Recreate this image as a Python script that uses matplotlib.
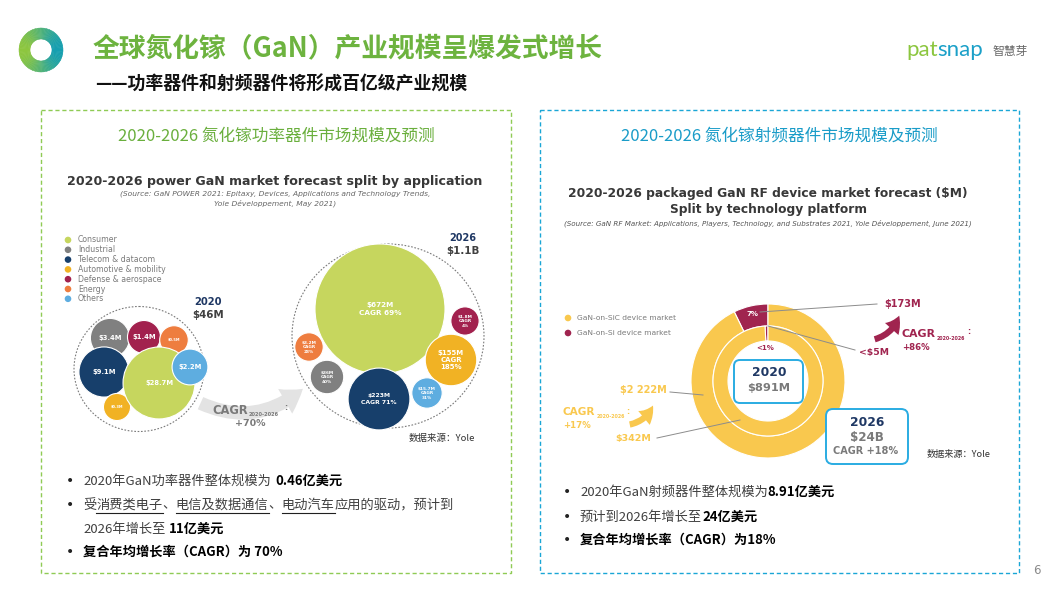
import numpy as np
import matplotlib
matplotlib.use("Agg")
import matplotlib.pyplot as plt
import matplotlib.colors as mc
from matplotlib.patches import Circle, Ellipse, Rectangle, Wedge, FancyArrowPatch, FancyBboxPatch

CJK = ['Noto Sans CJK SC', 'DejaVu Sans']
LAT = ['DejaVu Sans']
plt.rcParams['font.family'] = CJK

# ---------------- data ----------------
applications = ['Consumer', 'Industrial', 'Telecom & datacom', 'Automotive & mobility',
                'Defense & aerospace', 'Energy', 'Others']
power_2020 = [28.7, 3.4, 9.1, 0.3, 1.4, 0.5, 2.2]          # $M
power_2026 = [672, 36, 223, 155, 1.8, 3.2, 15.7]            # $M
power_cagr = [69, 40, 71, 185, 4, 28, 31]                   # %
power_total = ['$46M', '$1.1B']
power_total_cagr = 70

platforms = ['GaN-on-SiC device market', 'GaN-on-Si device market']
rf_2020 = [342, 3]        # inner ring (SiC, Si) $M
rf_2026 = [2222, 173]     # outer ring (SiC, Si) $M
rf_cagr = [17, 86]
rf_total = ['$891M', '$24B']
rf_total_cagr = 18

# ---------------- layout / style ----------------
app_colors = ['#C6D65E', '#808080', '#173F6B', '#F1B224', '#A2214E', '#EE7D3F', '#5EADE0']
pos_2020 = [(159, 383), (110, 338), (104, 372), (117, 407), (144, 337), (174, 340), (190, 367)]
pos_2026 = [(380, 309), (327, 377), (379, 399), (451, 360), (465, 321), (309, 347), (427, 393)]
order_2020 = [1, 4, 5, 2, 3, 0, 6]
order_2026 = [0, 1, 2, 3, 4, 5, 6]
YEL, MAR = '#F9C84E', '#A0244F'
NAVY = '#1F3864'

fig = plt.figure(figsize=(10.53, 5.94), dpi=100)
ax = fig.add_axes([0, 0, 1, 1])
R = fig.canvas.get_renderer()


def reset():
    ax.set_xlim(0, 1053)
    ax.set_ylim(594, 0)
    ax.set_aspect('auto')
    ax.axis('off')


reset()


def fit(x, y, s, width, **kw):
    t = ax.text(x, y, s, fontsize=10, **kw)
    w = t.get_window_extent(renderer=R).width
    t.set_fontsize(10 * width / w)
    return t


def rich(x, y, segs, size, gap=0):
    for s, bold, ul in segs:
        t = ax.text(x, y, s, fontsize=size, fontweight='bold' if bold else 'normal',
                    color='#000000' if bold else '#404040', va='center', ha='left', family=CJK)
        w = t.get_window_extent(renderer=R).width
        if ul:
            ax.plot([x, x + w], [y + 8, y + 8], color='#202020', lw=0.8)
        x += w + (gap if not bold else 0)


# ---------------- header ----------------
c1 = np.array(mc.to_rgb('#8DC63F'))
c2 = np.array(mc.to_rgb('#169FB0'))
for a in range(0, 360, 4):
    f = (np.cos(np.radians(a + 2)) + 1) / 2
    col = c1 * (1 - f) + c2 * f
    ax.add_patch(Wedge((41, 50), 22, a, a + 4.6, width=11, fc=col, ec=col, lw=0.3))

ax.text(93, 48, '全球氮化镓（GaN）产业规模呈爆发式增长', fontsize=19.3, fontweight='bold',
        color='#6DB33F', va='center', ha='left')
ax.text(95, 85, '——功率器件和射频器件将形成百亿级产业规模', fontsize=12.9, fontweight='bold',
        color='#111111', va='center', ha='left')

t = ax.text(906, 50, 'pat', fontsize=16, color='#8CC63F', va='center', ha='left', family=['Lato'])
w = t.get_window_extent(renderer=R).width
ax.text(906 + w, 50, 'snap', fontsize=16, color='#1BA0C8', va='center', ha='left', family=['Lato'])
ax.text(992, 51, '智慧芽', fontsize=8.5, color='#666666', va='center', ha='left')

# panels
ax.add_patch(Rectangle((41, 110), 470, 463, fill=False, ec='#8FCB55', lw=1, ls=(0, (3, 2))))
ax.add_patch(Rectangle((540, 110), 479, 463, fill=False, ec='#1AA6D6', lw=1, ls=(0, (3, 2))))
ax.text(276, 136, '2020-2026 氮化镓功率器件市场规模及预测', fontsize=12, color='#6AAF3D',
        ha='center', va='center')
ax.text(779, 136, '2020-2026 氮化镓射频器件市场规模及预测', fontsize=12, color='#1A9CC8',
        ha='center', va='center')
ax.text(1037, 571, '6', fontsize=8.5, color='#8a8a8a', ha='center', va='center', family=LAT)

# ---------------- left: bubble chart ----------------
fit(275, 181, '2020-2026 power GaN market forecast split by application', 416,
    ha='center', va='center', fontweight='bold', color='#383838', family=LAT)
s1 = fit(275, 194, '(Source: GaN POWER 2021: Epitaxy, Devices, Applications and Technology Trends,', 309,
         ha='center', va='center', style='italic', color='#666666', family=LAT)
ax.text(275, 203, 'Yole Développement, May 2021)', fontsize=s1.get_fontsize(), ha='center', va='center',
        style='italic', color='#666666', family=LAT)

# legend
for i, (name, col) in enumerate(zip(applications, app_colors)):
    y = 240 + i * 9.8
    ax.add_patch(Circle((68, y), 3.3, fc=col, ec='none'))
    ax.text(78, y, name, fontsize=5.6, color='#7a7a7a', va='center', ha='left', family=LAT)

# dashed envelopes
ax.add_patch(Ellipse((139, 369), 130, 125, fill=False, ec='#7a7a7a', lw=0.8, ls=(0, (1.5, 1.5))))
ax.add_patch(Ellipse((388, 336), 192, 184, fill=False, ec='#7a7a7a', lw=0.8, ls=(0, (1.5, 1.5))))


def r2020(v):
    return 11 + 4.66 * np.sqrt(v)


def r2026(v):
    return 14 + 0.0759 * v


for i in order_2020:
    v = power_2020[i]
    r = r2020(v)
    ax.add_patch(Circle(pos_2020[i], r, fc=app_colors[i], ec='white', lw=0.8))
    fs = 4.9 if r >= 15 else 2.6
    ax.text(pos_2020[i][0], pos_2020[i][1], f'${v:g}M', fontsize=fs, color='white',
            fontweight='bold', ha='center', va='center', family=LAT)

for i in order_2026:
    v = power_2026[i]
    r = r2026(v)
    ax.add_patch(Circle(pos_2026[i], r, fc=app_colors[i], ec='white', lw=0.8))
    if r >= 28:
        lab = f'${v:g}M\nCAGR {power_cagr[i]}%'
        fs = 5.2 if r >= 40 else 4.4
    else:
        lab = f'${v:g}M\nCAGR\n{power_cagr[i]}%'
        fs = 5.0 if r >= 20 else 3.1
    ax.text(pos_2026[i][0], pos_2026[i][1], lab, fontsize=fs, color='white', fontweight='bold',
            ha='center', va='center', family=LAT, linespacing=1.25)

ax.text(208, 302, '2020', fontsize=7.2, fontweight='bold', color=NAVY, ha='center', va='center', family=LAT)
ax.text(208, 315, power_total[0], fontsize=7.4, fontweight='bold', color='#404040', ha='center', va='center', family=LAT)
ax.text(463, 238, '2026', fontsize=7.0, fontweight='bold', color=NAVY, ha='center', va='center', family=LAT)
ax.text(463, 251, power_total[1], fontsize=7.4, fontweight='bold', color='#404040', ha='center', va='center', family=LAT)

ax.add_patch(FancyArrowPatch((198, 402), (305, 387), connectionstyle='arc3,rad=0.33',
                             arrowstyle='simple,head_length=1.3,head_width=1.7,tail_width=0.8',
                             mutation_scale=12, fc='#e3e3e3', ec='none'))
ax.text(230, 410, 'CAGR', fontsize=8.3, fontweight='bold', color='#7a7a7a', ha='center', va='center', family=LAT)
ax.text(249, 415, '2020-2026', fontsize=3.6, fontweight='bold', color='#7a7a7a', ha='left', va='center', family=LAT)
ax.text(284, 407, ':', fontsize=5.5, fontweight='bold', color='#7a7a7a', ha='left', va='center', family=LAT)
ax.text(250, 423, f'+{power_total_cagr}%', fontsize=6.8, fontweight='bold', color='#7a7a7a',
        ha='center', va='center', family=LAT)
ax.text(442, 438, '数据来源：Yole', fontsize=6.8, color='#333333', ha='center', va='center')

# ---------------- right: donut ----------------
f1 = fit(768, 193, '2020-2026 packaged GaN RF device market forecast ($M)', 401,
         ha='center', va='center', fontweight='bold', color='#383838', family=LAT)
ax.text(768, 209, 'Split by technology platform', fontsize=f1.get_fontsize(), ha='center', va='center',
        fontweight='bold', color='#383838', family=LAT)
fit(768, 223, '(Source: GaN RF Market: Applications, Players, Technology, and Substrates 2021, Yole Développement, June 2021)',
    405, ha='center', va='center', style='italic', color='#555555', family=LAT)

for i, (name, col) in enumerate(zip(platforms, [YEL, MAR])):
    y = 318 + i * 15
    ax.add_patch(Circle((568, y), 3.3, fc=col, ec='none'))
    ax.text(577, y, name, fontsize=5.4, color='#7a7a7a', va='center', ha='left', family=LAT)

C = (768, 381)
ax.pie(rf_2026[::-1], radius=77, center=C, colors=[MAR, YEL], startangle=-90, counterclock=False,
       wedgeprops=dict(width=22, edgecolor='white', linewidth=0.8), frame=True)
ax.pie(rf_2020[::-1], radius=55, center=C, colors=[MAR, YEL], startangle=-90, counterclock=False,
       wedgeprops=dict(width=15, edgecolor='white', linewidth=0.8), frame=True)
reset()

share26 = rf_2026[1] / sum(rf_2026) * 100
ax.text(752, 314, f'{share26:.0f}%', fontsize=5, fontweight='bold', color='white', ha='center', va='center', family=LAT)
ax.text(765, 348, '<1%', fontsize=5, fontweight='bold', color=MAR, ha='center', va='center', family=LAT)

lc = '#8c8c8c'
ax.plot([760, 877], [312, 304], color=lc, lw=0.7)
ax.plot([768, 855], [326, 350], color=lc, lw=0.7)
ax.plot([670, 703], [392, 395], color=lc, lw=0.7)
ax.plot([657, 740], [438, 420], color=lc, lw=0.7)

ax.text(903, 304, f'${rf_2026[1]}M', fontsize=7, fontweight='bold', color=MAR, ha='center', va='center', family=LAT)
ax.text(874, 352, '<$5M', fontsize=6.7, fontweight='bold', color=MAR, ha='center', va='center', family=LAT)
ax.text(643, 390, '$' + f'{rf_2026[0]:,}'.replace(',', ' ') + 'M', fontsize=7, fontweight='bold', color=YEL,
        ha='center', va='center', family=LAT)
ax.text(633, 439, f'${rf_2020[0]}M', fontsize=6.8, fontweight='bold', color=YEL, ha='center', va='center', family=LAT)

ax.add_patch(FancyArrowPatch((872, 340), (900, 313), connectionstyle='arc3,rad=0.3',
                             arrowstyle='simple,head_length=1.1,head_width=1.3,tail_width=0.45',
                             mutation_scale=10, fc=MAR, ec='none'))
ax.text(919, 334, 'CAGR', fontsize=7.9, fontweight='bold', color=MAR, ha='center', va='center', family=LAT)
ax.text(937, 338, '2020-2026', fontsize=3.4, fontweight='bold', color=MAR, ha='left', va='center', family=LAT)
ax.text(967, 332, ':', fontsize=5.5, fontweight='bold', color=MAR, ha='left', va='center', family=LAT)
ax.text(916, 347, f'+{rf_cagr[1]}%', fontsize=6.2, fontweight='bold', color=MAR, ha='center', va='center', family=LAT)

ax.add_patch(FancyArrowPatch((627, 425), (654, 403), connectionstyle='arc3,rad=0.3',
                             arrowstyle='simple,head_length=1.1,head_width=1.3,tail_width=0.45',
                             mutation_scale=10, fc=YEL, ec='none'))
ax.text(579, 412, 'CAGR', fontsize=7.6, fontweight='bold', color=YEL, ha='center', va='center', family=LAT)
ax.text(597, 417, '2020-2026', fontsize=3.4, fontweight='bold', color=YEL, ha='left', va='center', family=LAT)
ax.text(626, 411, ':', fontsize=5.5, fontweight='bold', color=YEL, ha='left', va='center', family=LAT)
ax.text(577, 425, f'+{rf_cagr[0]}%', fontsize=6.2, fontweight='bold', color=YEL, ha='center', va='center', family=LAT)

BOX = '#2AACE2'
ax.add_patch(FancyBboxPatch((734, 360), 69, 43, boxstyle='round,pad=0,rounding_size=6',
                            fc='white', ec=BOX, lw=1.4))
ax.text(769, 372, '2020', fontsize=8.8, fontweight='bold', color=NAVY, ha='center', va='center', family=LAT)
ax.text(769, 388, rf_total[0], fontsize=8.2, fontweight='bold', color='#7a7a7a', ha='center', va='center', family=LAT)
ax.add_patch(FancyBboxPatch((826, 409), 82, 55, boxstyle='round,pad=0,rounding_size=7',
                            fc='white', ec=BOX, lw=1.4))
ax.text(867, 423, '2026', fontsize=8.8, fontweight='bold', color=NAVY, ha='center', va='center', family=LAT)
ax.text(867, 438, rf_total[1], fontsize=8.6, fontweight='bold', color='#7a7a7a', ha='center', va='center', family=LAT)
ax.text(866, 451, f'CAGR +{rf_total_cagr}%', fontsize=7, fontweight='bold', color='#7a7a7a',
        ha='center', va='center', family=LAT)
ax.text(959, 454, '数据来源：Yole', fontsize=6.6, color='#333333', ha='center', va='center')

# ---------------- bullets ----------------
FS = 9.5
for y in [481, 505, 552]:
    ax.text(70, y, '•', fontsize=10, color='#222222', ha='center', va='center', family=LAT)
rich(83, 481, [('2020年GaN功率器件整体规模为', False, False), ('0.46亿美元', True, False)], FS, gap=4)
rich(83, 505, [('受', False, False), ('消费类电子', False, True), ('、', False, False),
               ('电信及数据通信', False, True), ('、', False, False), ('电动汽车', False, True),
               ('应用的驱动，预计到', False, False)], FS)
rich(83, 529, [('2026年增长至', False, False), ('11亿美元', True, False)], FS, gap=4)
rich(83, 552, [('复合年均增长率（CAGR）为 70%', True, False)], FS)

for y in [492, 517, 540]:
    ax.text(567, y, '•', fontsize=10, color='#222222', ha='center', va='center', family=LAT)
rich(580, 492, [('2020年GaN射频器件整体规模为', False, False), ('8.91亿美元', True, False)], FS)
rich(580, 517, [('预计到2026年增长至', False, False), ('24亿美元', True, False)], FS)
rich(580, 540, [('复合年均增长率（CAGR）为18%', True, False)], FS)

reset()
fig.savefig('out.png', dpi=100)
